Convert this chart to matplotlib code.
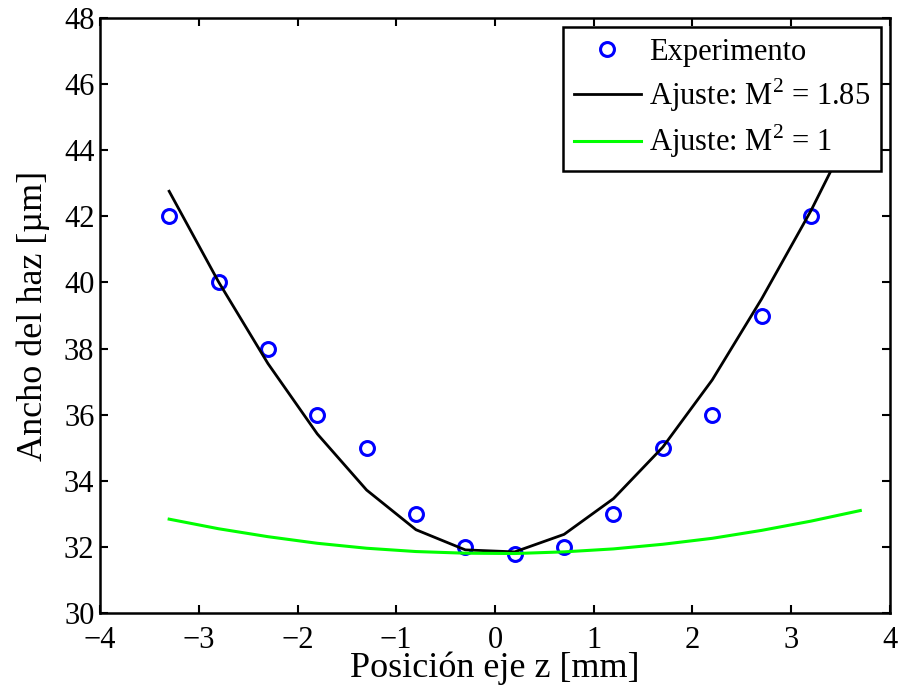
"""
beam width along z: measured points vs. two M^2 fits
"""
import numpy as np
import matplotlib
matplotlib.use('Agg')
import matplotlib.pyplot as plt

# measured beam width
z_exp = [-3.3, -2.8, -2.3, -1.8, -1.3, -0.8, -0.3, 0.2, 0.7, 1.2, 1.7, 2.2, 2.7, 3.2]
w_exp = [42, 40, 38, 36, 35, 33, 32, 31.8, 32, 33, 35, 36, 39, 42]

# fitted curves, sampled every 0.5 mm
z_fit = [-3.3, -2.8, -2.3, -1.8, -1.3, -0.8, -0.3, 0.2, 0.7, 1.2, 1.7, 2.2, 2.7, 3.2, 3.7]
w_m185 = [42.76, 40.02, 37.55, 35.42, 33.72, 32.52, 31.91, 31.85, 32.38, 33.46,
          35.02, 37.05, 39.50, 42.17, 45.15]
w_m1 = [32.84, 32.55, 32.31, 32.11, 31.96, 31.86, 31.81, 31.80, 31.85, 31.94,
        32.08, 32.26, 32.50, 32.78, 33.10]

plt.rcParams['font.family'] = ['Liberation Serif', 'DejaVu Serif']
plt.rcParams['mathtext.fontset'] = 'custom'
plt.rcParams['mathtext.rm'] = 'Liberation Serif'

fig = plt.figure(figsize=(8.98, 6.93), dpi=100)
ax = fig.add_axes([0.1114, 0.1154, 0.8796, 0.8586])

ax.plot(z_exp, w_exp, 'o', color='blue', mfc='none', mew=2.2, ms=10, label='Experimento')
ax.plot(z_fit, w_m185, '-', color='black', lw=2.0, label='Ajuste: M$^2$ = 1.85')
ax.plot(z_fit, w_m1, '-', color=(0, 1, 0), lw=2.2, label='Ajuste: M$^2$ = 1')

ax.set_xlim(-4, 4)
ax.set_ylim(30, 48)
ax.set_xticks(np.arange(-4, 5, 1))
ax.set_yticks(np.arange(30, 49, 2))
ax.tick_params(direction='in', top=True, right=True, length=6, width=1.5,
               labelsize=22)
ax.tick_params(axis='x', pad=9)
ax.tick_params(axis='y', pad=4)
for sp in ax.spines.values():
    sp.set_linewidth(1.8)

ax.set_xlabel('Posición eje z [mm]', fontsize=26, labelpad=-2)
ax.set_ylabel('Ancho del haz [µm]', fontsize=26, labelpad=10)

leg = ax.legend(loc='upper right', fontsize=22, handlelength=2.2, handletextpad=0.25,
                borderpad=0.35, labelspacing=0.3, borderaxespad=0.3, fancybox=False,
                framealpha=1, edgecolor='black')
leg.get_frame().set_linewidth(1.8)

plt.savefig('out.png', dpi=100)
